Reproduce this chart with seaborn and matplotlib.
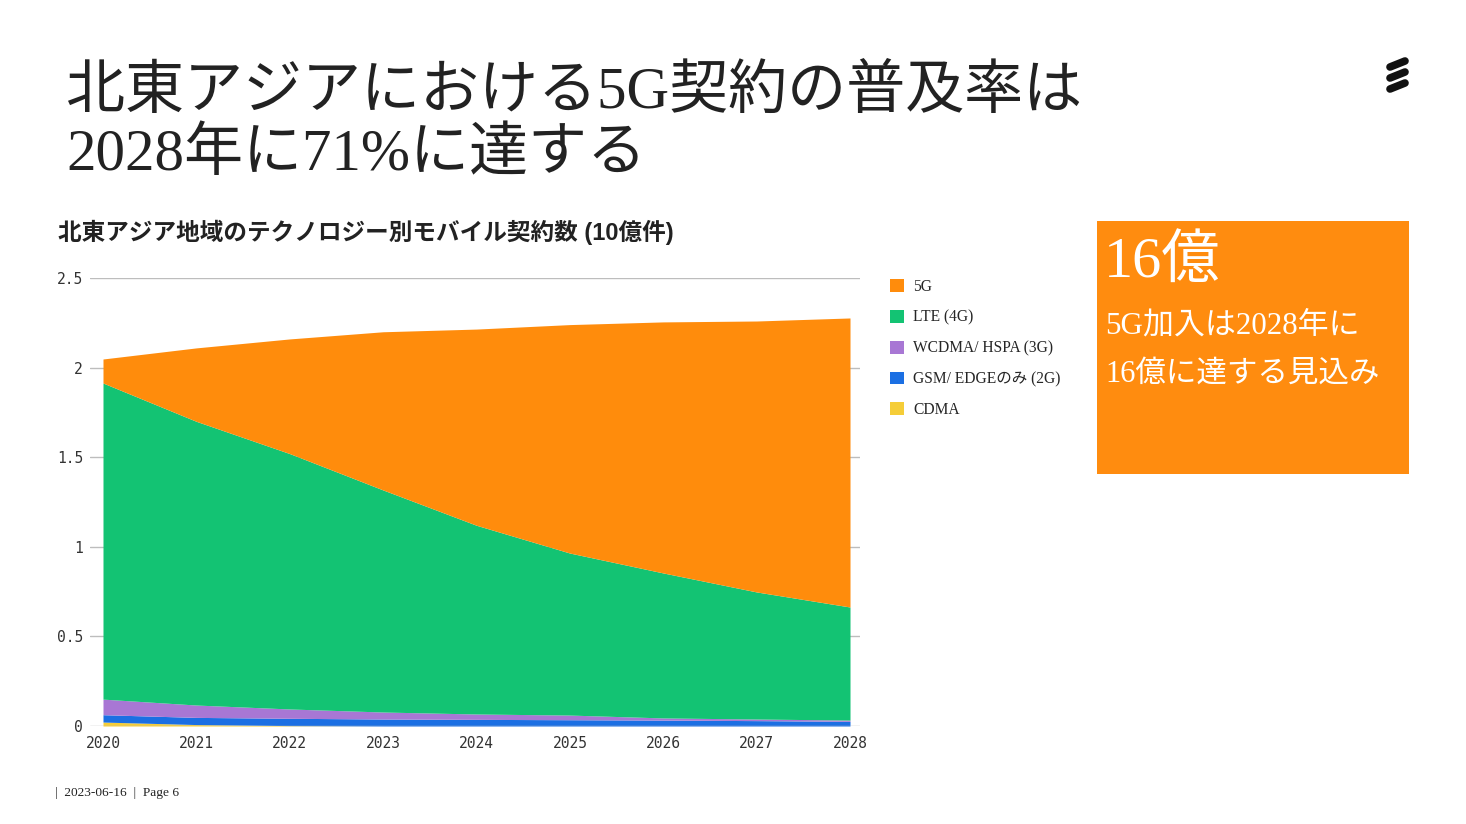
import numpy as np
import matplotlib
matplotlib.use("Agg")
import matplotlib.pyplot as plt
import seaborn as sns
from matplotlib.patches import Rectangle, Patch
from matplotlib.lines import Line2D

# data (billions of subscriptions)
years = [2020, 2021, 2022, 2023, 2024, 2025, 2026, 2027, 2028]
cdma = [0.022, 0.008, 0.002, 0.0, 0.0, 0.0, 0.0, 0.0, 0.0]
gsm_2g = [0.041, 0.040, 0.041, 0.039, 0.037, 0.035, 0.033, 0.030, 0.026]
wcdma_3g = [0.087, 0.069, 0.052, 0.039, 0.030, 0.026, 0.012, 0.009, 0.007]
lte_4g = [1.764, 1.583, 1.425, 1.239, 1.053, 0.904, 0.809, 0.709, 0.631]
nr_5g = [0.134, 0.410, 0.640, 0.883, 1.095, 1.275, 1.401, 1.512, 1.613]

series_labels = ["CDMA", "GSM/ EDGEのみ (2G)", "WCDMA/ HSPA (3G)", "LTE (4G)", "5G"]
series_colors = ["#F5CD38", "#1B6FE3", "#A877D4", "#13C373", "#FF8C0C"]
y_ticks = [0, 0.5, 1, 1.5, 2, 2.5]
y_tick_labels = ["0", "0.5", "1", "1.5", "2", "2.5"]

title_lines = ["北東アジアにおける5G契約の普及率は", "2028年に71%に達する"]
chart_title = "北東アジア地域のテクノロジー別モバイル契約数 (10億件)"

sns.set_theme(style="white")
serif_jp = ["Liberation Serif", "Noto Sans CJK JP"]
sans_jp = ["Liberation Sans", "Noto Sans CJK JP"]
plt.rcParams["font.family"] = ["DejaVu Sans", "Noto Sans CJK JP"]

W, H = 1466, 824
fig = plt.figure(figsize=(W / 100, H / 100), dpi=100)
fig.patch.set_facecolor("white")

def fx(px):
    return px / W

def fy(py):
    return 1 - py / H

ax = fig.add_axes([fx(90), fy(726), fx(860) - fx(90), fy(278) - fy(726)])
ax.stackplot(years, cdma, gsm_2g, wcdma_3g, lte_4g, nr_5g,
             colors=series_colors, linewidth=0, zorder=2)
ax.set_xlim(2020 - 13 / 93.4, 2028 + 10 / 93.4)
ax.set_ylim(0, 2.5)
ax.set_yticks(y_ticks)
ax.set_yticklabels(y_tick_labels)
ax.set_xticks(years)
ax.set_xticklabels([str(y) for y in years])
for yv in y_ticks:
    ax.axhline(yv, color="#BDBDBD", linewidth=1, zorder=1 if yv > 0 else 3)
ax.tick_params(axis="both", length=0, labelsize=10.5, labelcolor="#333333")
ax.tick_params(axis="y", pad=5)
ax.tick_params(axis="x", pad=7)
for lab in ax.get_xticklabels() + ax.get_yticklabels():
    lab.set_family("DejaVu Sans Mono")
ax.grid(False)
sns.despine(ax=ax, left=True, bottom=True)
ax.set_facecolor("white")

# legend, top entry first
handles = [Patch(facecolor=c, edgecolor="none") for c in series_colors[::-1]]
leg = fig.legend(handles, series_labels[::-1], loc="upper left",
                 bbox_to_anchor=(fx(876), fy(265)), frameon=False,
                 prop={"family": serif_jp, "size": 11.2}, handlelength=0.9,
                 handleheight=0.9, handletextpad=0.6, labelspacing=0.95)

# slide title
fig.text(fx(66), fy(108), title_lines[0], family=serif_jp, fontsize=42.5,
         color="#222222", va="baseline")
fig.text(fx(66), fy(170), title_lines[1], family=serif_jp, fontsize=42.5,
         color="#222222", va="baseline")

# chart title
fig.text(fx(58), fy(240), chart_title, family=sans_jp, fontsize=17,
         fontweight="bold", color="#222222", va="baseline")

# orange call-out box
fig.patches.append(Rectangle((fx(1097), fy(474)), fx(1409) - fx(1097), fy(221) - fy(474),
                             transform=fig.transFigure, facecolor="#FF8C0F",
                             edgecolor="none"))
fig.text(fx(1104), fy(278), "16億", family=serif_jp, fontsize=42,
         color="white", va="baseline")
fig.text(fx(1105), fy(333), "5G加入は2028年に", family=serif_jp, fontsize=22.3,
         color="white", va="baseline")
fig.text(fx(1105), fy(382), "16億に達する見込み", family=serif_jp, fontsize=22,
         color="white", va="baseline")

# logo: three slanted bars
for dy in (0, 11, 22):
    fig.lines.append(Line2D([fx(1390), fx(1405)], [fy(67 + dy), fy(61 + dy)],
                            transform=fig.transFigure, color="#111111",
                            linewidth=5.5, solid_capstyle="round"))

# footer
fig.text(fx(55), fy(796), "|  2023-06-16  |  Page 6", family=serif_jp,
         fontsize=9.6, color="#222222", va="baseline")

fig.savefig("out.png", dpi=100, facecolor="white")
